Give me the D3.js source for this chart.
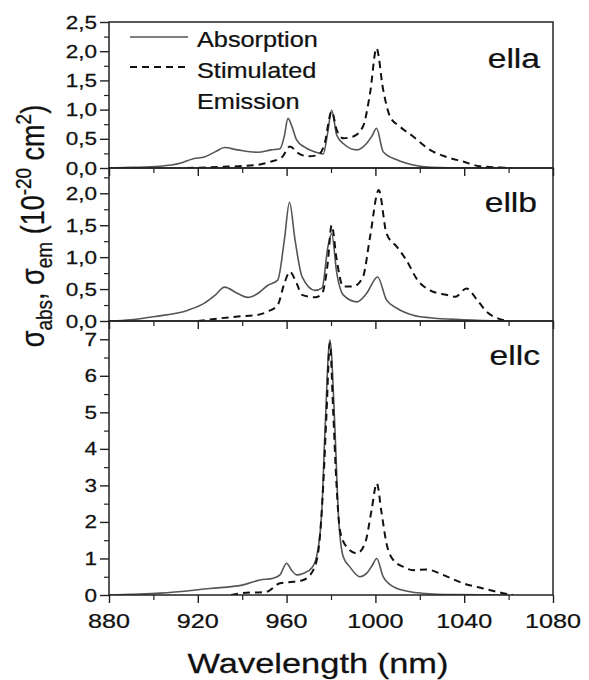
<!DOCTYPE html>
<html><head><meta charset="utf-8">
<script src="https://cdn.jsdelivr.net/npm/d3@7"></script>
<style>body{margin:0;background:#fff}svg{display:block}text{font-family:"Liberation Sans",Arial,sans-serif;fill:#111;stroke:#111;stroke-width:0.25}</style>
</head><body><svg id="c" width="589" height="680"></svg>
<script>
// ---- data ----
const panelNames = ["ella", "ellb", "ellc"];
const xTickLabels = [880, 920, 960, 1000, 1040, 1080];
const yTicksA = [0, 0.5, 1.0, 1.5, 2.0, 2.5];
const yTicksB = [0, 0.5, 1.0, 1.5, 2.0];
const yTicksC = [0, 1, 2, 3, 4, 5, 6, 7];

const ellaAbsWl = [880,890,903,912,918,923,928,932,938,947,953,957,959,960.6,962.5,964.5,968,974,976.5,978.5,980.3,982.6,985.5,991.7,996,998.5,1000.5,1003.5,1009.7,1017,1025,1040,1060];
const ellaAbs   = [0,0.01,0.03,0.08,0.16,0.19,0.28,0.35,0.31,0.27,0.31,0.33,0.55,0.85,0.7,0.48,0.36,0.26,0.24,0.6,0.99,0.56,0.42,0.31,0.42,0.55,0.68,0.28,0.14,0.05,0.01,0,0];
const ellaEmWl  = [915,931,946,953,958,961.5,965,969.6,974,977,980.3,982.6,985.5,990,994.4,997.6,1000.5,1003.5,1006.6,1011,1017,1024.6,1032,1039.5,1047,1056,1062];
const ellaEm    = [0,0.02,0.05,0.11,0.19,0.37,0.26,0.2,0.22,0.4,0.97,0.65,0.51,0.54,0.71,1.28,2.05,1.34,0.88,0.71,0.54,0.31,0.19,0.11,0.03,0.01,0];

const ellbAbsWl = [880,890,900.7,915.6,923,928,932,938,942.6,947,951.6,956,959,961.3,963.8,967,972.8,976,978.6,980.3,982.6,985.5,991.7,996,1001,1005,1009.7,1017,1024.6,1039.5,1060];
const ellbAbs   = [0,0.02,0.07,0.17,0.28,0.41,0.53,0.43,0.37,0.43,0.56,0.64,1.27,1.86,1.27,0.69,0.48,0.52,1.16,1.37,0.75,0.41,0.30,0.43,0.69,0.33,0.2,0.09,0.05,0.02,0];
const ellbEmWl  = [920,938,946,951.6,956,959,961.5,964.5,967,972.8,976,978.5,980.3,982.6,985.5,990,994.4,997.6,1001.5,1005,1009.7,1014,1019,1024.6,1032,1036,1041,1045.8,1050,1056,1060];
const ellbEm    = [0,0.07,0.09,0.15,0.25,0.59,0.77,0.59,0.41,0.37,0.43,0.9,1.5,0.95,0.54,0.54,0.69,1.32,2.05,1.37,1.16,0.95,0.64,0.48,0.41,0.38,0.51,0.33,0.15,0.03,0];

const ellcAbsWl = [880,890,903,925.5,940,948,954,957,960,962,964.5,967.5,971.3,973.5,975.8,977.3,979.5,981.8,983.3,985.5,988.5,993,996,998.5,1000.6,1003.5,1008,1015.6,1021,1035,1060];
const ellcAbs   = [0,0.02,0.05,0.18,0.27,0.41,0.46,0.55,0.87,0.7,0.55,0.59,0.74,1.05,2.24,4.5,6.98,4.5,2.24,1.05,0.77,0.5,0.59,0.8,1.0,0.5,0.23,0.09,0.05,0.01,0];
const ellcEmWl  = [935,940,951,957,963,967.5,972,974.5,976.5,978,979.5,981,982.5,984,987,991.6,995.3,998.3,1000.6,1002.8,1005,1008,1012.6,1017,1023,1030.5,1039.5,1048.5,1057.5,1062];
const ellcEm    = [0,0.05,0.09,0.32,0.36,0.41,0.68,1.3,3.0,5.0,6.9,5.0,3.0,1.78,1.32,1.14,1.41,2.33,3.06,2.24,1.41,0.96,0.77,0.68,0.70,0.55,0.32,0.18,0.05,0];

// ---- layout ----
const svg = d3.select("#c");
const L = 109, R = 553;
const x = d3.scaleLinear().domain([880, 1080]).range([L, R]);
const panels = [
  {name: panelNames[0], top: 22, bot: 168, ymax: 2.5, ticks: yTicksA, minor: d3.range(0.25, 2.5, 0.5), fmt: v => d3.format(".1f")(v).replace(".", ","),
   absW: ellaAbsWl, abs: ellaAbs, emW: ellaEmWl, em: ellaEm, lblY: 68, lblR: 540},
  {name: panelNames[1], top: 168, bot: 321, ymax: 2.396, ticks: yTicksB, minor: d3.range(0.25, 2.4, 0.5), fmt: v => d3.format(".1f")(v).replace(".", ","),
   absW: ellbAbsWl, abs: ellbAbs, emW: ellbEmWl, em: ellbEm, lblY: 212, lblR: 537},
  {name: panelNames[2], top: 321, bot: 595, ymax: 7.5, ticks: yTicksC, minor: d3.range(0.5, 7.5, 1), fmt: v => String(v),
   absW: ellcAbsWl, abs: ellcAbs, emW: ellcEmWl, em: ellcEm, lblY: 365, lblR: 540}
];

function stext(g, str, tx, ty, size, anchor, sx) {
  return g.append("text").attr("transform", `translate(${tx},${ty}) scale(${sx||1.2},1)`)
    .attr("font-size", size).attr("text-anchor", anchor || "start").text(str);
}

panels.forEach((p, i) => {
  const y = d3.scaleLinear().domain([0, p.ymax]).range([p.bot, p.top]);
  const g = svg.append("g");
  const clipId = "clip" + i;
  svg.append("clipPath").attr("id", clipId).append("rect")
    .attr("x", L).attr("y", p.top).attr("width", R - L).attr("height", p.bot - p.top);

  const line = d3.line().x(d => x(d[0])).y(d => y(d[1])).curve(d3.curveMonotoneX);
  g.append("path").datum(d3.zip(p.absW, p.abs)).attr("d", line)
    .attr("clip-path", `url(#${clipId})`)
    .attr("fill", "none").attr("stroke", "#555").attr("stroke-width", 1.6);
  g.append("path").datum(d3.zip(p.emW, p.em)).attr("d", line)
    .attr("clip-path", `url(#${clipId})`)
    .attr("fill", "none").attr("stroke", "#111").attr("stroke-width", 2).attr("stroke-dasharray", "7,5");

  // frame
  g.append("rect").attr("x", L).attr("y", p.top).attr("width", R - L).attr("height", p.bot - p.top)
    .attr("fill", "none").attr("stroke", "#222").attr("stroke-width", 1.5);

  // y axis major
  const ya = d3.axisLeft(y).tickValues(p.ticks).tickSize(9).tickPadding(3).tickFormat(() => "");
  const yg = g.append("g").attr("transform", `translate(${L},0)`).call(ya);
  yg.select(".domain").remove();
  yg.selectAll("line").attr("stroke", "#222").attr("stroke-width", 1.4);
  p.ticks.forEach(v => {
    stext(g, p.fmt(v), L - 12, y(v) + 6.5, 18, "end", 1.25);
  });
  // y minor
  const ym = d3.axisLeft(y).tickValues(p.minor).tickSize(5).tickFormat(() => "");
  const ymg = g.append("g").attr("transform", `translate(${L},0)`).call(ym);
  ymg.select(".domain").remove();
  ymg.selectAll("line").attr("stroke", "#222").attr("stroke-width", 1.2);

  // x axis ticks (outward)
  const xa = d3.axisBottom(x).tickValues(xTickLabels).tickSize(8).tickFormat(() => "");
  const xg = g.append("g").attr("transform", `translate(0,${p.bot})`).call(xa);
  xg.select(".domain").remove();
  xg.selectAll("line").attr("stroke", "#222").attr("stroke-width", 1.4);
  const xm = d3.axisBottom(x).tickValues(d3.range(900, 1080, 40)).tickSize(5).tickFormat(() => "");
  const xmg = g.append("g").attr("transform", `translate(0,${p.bot})`).call(xm);
  xmg.select(".domain").remove();
  xmg.selectAll("line").attr("stroke", "#222").attr("stroke-width", 1.2);

  stext(g, p.name, p.lblR, p.lblY, 28, "end", 1.2);

  if (i === 2) {
    xTickLabels.forEach(v => stext(g, String(v), x(v), 628, 21, "middle", 1.2));
  }
});

// legend
const lg = svg.append("g");
lg.append("line").attr("x1", 130).attr("x2", 188).attr("y1", 37).attr("y2", 37)
  .attr("stroke", "#555").attr("stroke-width", 1.6);
lg.append("line").attr("x1", 130).attr("x2", 188).attr("y1", 67).attr("y2", 67)
  .attr("stroke", "#111").attr("stroke-width", 2).attr("stroke-dasharray", "7,5");
stext(lg, "Absorption", 197, 47, 22, "start", 1.15);
stext(lg, "Stimulated", 197, 78, 22, "start", 1.15);
stext(lg, "Emission", 197, 109, 22, "start", 1.15);

stext(svg, "Wavelength (nm)", 318, 673, 28, "middle", 1.23);

const yl = svg.append("text").attr("transform", "translate(44,226) rotate(-90) scale(1,1.2)")
  .attr("font-size", 27).attr("text-anchor", "middle");
yl.append("tspan").text("\u03c3");
yl.append("tspan").attr("font-size", 19).attr("dy", 7).text("abs");
yl.append("tspan").attr("dy", -7).text(", \u03c3");
yl.append("tspan").attr("font-size", 19).attr("dy", 7).text("em");
yl.append("tspan").attr("dy", -7).text(" (10");
yl.append("tspan").attr("font-size", 19).attr("dy", -11).text("-20");
yl.append("tspan").attr("dy", 11).text(" cm");
yl.append("tspan").attr("font-size", 19).attr("dy", -11).text("2");
yl.append("tspan").attr("dy", 11).text(")");
</script></body></html>
